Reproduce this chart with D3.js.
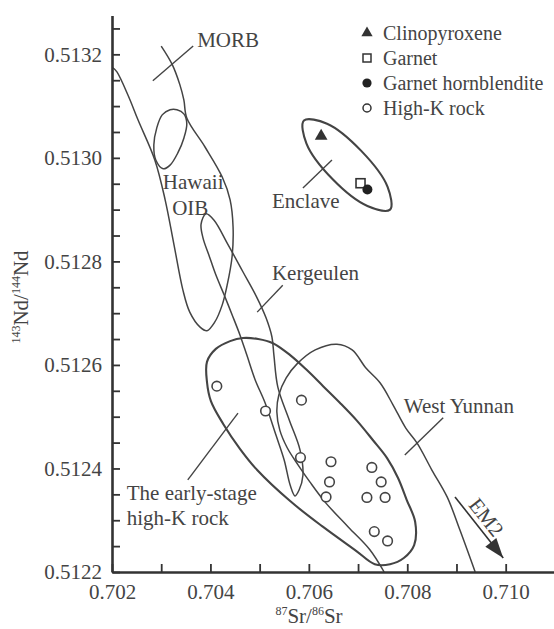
<!DOCTYPE html>
<html>
<head>
<meta charset="utf-8">
<script src="https://cdn.jsdelivr.net/npm/d3@7"></script>
<style>
  body { margin: 0; background: #fff; }
  svg text { font-family: "Liberation Serif", "Times New Roman", serif; fill: #444; }
</style>
</head>
<body>
<svg id="chart" width="554" height="629"></svg>
<script>
// legend categories
const categories = ["Clinopyroxene", "Garnet", "Garnet hornblendite", "High-K rock"];

// enclave minerals  [87Sr/86Sr, 143Nd/144Nd]
const clinopyroxene = [[0.70625, 0.513042]];
const garnet = [[0.70705, 0.512951]];
const garnetHornblendite = [[0.70719, 0.512939]];

// high-K rocks
const highK = [
  [0.70413, 0.512559], [0.70512, 0.512511], [0.70585, 0.512532], [0.70583, 0.512421],
  [0.70645, 0.512413], [0.70642, 0.512374], [0.70635, 0.512345], [0.70728, 0.512402],
  [0.70747, 0.512374], [0.70718, 0.512344], [0.70755, 0.512344], [0.70733, 0.512278],
  [0.70760, 0.512260]
];

// field outlines
const morbOib = [
  [0.70202, 0.513174], [0.70210, 0.513166], [0.70233, 0.513120], [0.70253, 0.513073],
  [0.70287, 0.512996], [0.70308, 0.512919], [0.70326, 0.512832], [0.70344, 0.512745],
  [0.70358, 0.512702], [0.70379, 0.512673], [0.70393, 0.512666], [0.70409, 0.512683],
  [0.70424, 0.512716], [0.70434, 0.512754], [0.70444, 0.512809], [0.70446, 0.512867],
  [0.70440, 0.512919], [0.70424, 0.512963], [0.70389, 0.513021], [0.70352, 0.513077],
  [0.70346, 0.513112], [0.70338, 0.513141], [0.70322, 0.513181], [0.70300, 0.513216]
];
const hawaii = [
  [0.70318, 0.513093], [0.70302, 0.513083], [0.70291, 0.513058], [0.70285, 0.513025],
  [0.70289, 0.512996], [0.70304, 0.512979], [0.70318, 0.512986], [0.70334, 0.513010],
  [0.70346, 0.513038], [0.70352, 0.513066], [0.70346, 0.513085], [0.70332, 0.513093]
];
const kergeulen = [
  [0.70391, 0.512892], [0.70407, 0.512880], [0.70436, 0.512832], [0.70466, 0.512780],
  [0.70493, 0.512733], [0.70513, 0.512691], [0.70525, 0.512654], [0.70529, 0.512619],
  [0.70537, 0.512557], [0.70560, 0.512494], [0.70582, 0.512436], [0.70588, 0.512387],
  [0.70580, 0.512358], [0.70572, 0.512347], [0.70562, 0.512368], [0.70550, 0.512416],
  [0.70533, 0.512465], [0.70511, 0.512527], [0.70491, 0.512571], [0.70474, 0.512619],
  [0.70460, 0.512658], [0.70444, 0.512697], [0.70428, 0.512735], [0.70411, 0.512774],
  [0.70397, 0.512812], [0.70385, 0.512845], [0.70381, 0.512872]
];
const earlyStage = [
  [0.70393, 0.512606], [0.70411, 0.512631], [0.70440, 0.512646], [0.70466, 0.512652],
  [0.70497, 0.512650], [0.70527, 0.512642], [0.70562, 0.512619], [0.70596, 0.512590],
  [0.70629, 0.512559], [0.70663, 0.512527], [0.70698, 0.512492], [0.70730, 0.512455],
  [0.70759, 0.512420], [0.70781, 0.512382], [0.70799, 0.512339], [0.70816, 0.512297],
  [0.70814, 0.512252], [0.70793, 0.512227], [0.70765, 0.512215], [0.70734, 0.512215],
  [0.70696, 0.512241], [0.70629, 0.512287], [0.70562, 0.512337], [0.70495, 0.512397],
  [0.70460, 0.512438], [0.70426, 0.512486], [0.70401, 0.512530], [0.70393, 0.512567]
];
const westYunnan = [
  [0.70753, 0.512200], [0.70724, 0.512243], [0.70680, 0.512287], [0.70633, 0.512335],
  [0.70602, 0.512374], [0.70578, 0.512407], [0.70556, 0.512440], [0.70541, 0.512474],
  [0.70535, 0.512509], [0.70539, 0.512542], [0.70554, 0.512575], [0.70576, 0.512602],
  [0.70613, 0.512629], [0.70657, 0.512640], [0.70688, 0.512629], [0.70716, 0.512594],
  [0.70745, 0.512565], [0.70771, 0.512523], [0.70797, 0.512478], [0.70820, 0.512449],
  [0.70850, 0.512397], [0.70881, 0.512345], [0.70907, 0.512281], [0.70938, 0.512200]
];
const enclave = [
  [0.70765, 0.512900], [0.70719, 0.512907], [0.70648, 0.512959], [0.70595, 0.513028],
  [0.70590, 0.513072], [0.70637, 0.513066], [0.70707, 0.513013], [0.70760, 0.512944]
];
const em2 = [[0.70897, 0.512345], [0.70995, 0.512227]];

// labels with leader lines: [text, x, y, anchor, leader]
const annotations = [
  ["MORB", 0.70373, 0.513214, "start", [[0.70283, 0.513149], [0.70365, 0.513216]]],
  ["Hawaii", 0.70365, 0.512940, "middle", null],
  ["OIB", 0.70359, 0.512890, "middle", null],
  ["Enclave", 0.70525, 0.512903, "start", [[0.70588, 0.512942], [0.70647, 0.512996]]],
  ["Kergeulen", 0.70525, 0.512764, "start", [[0.70547, 0.512754], [0.70495, 0.512702]]],
  ["West Yunnan", 0.70793, 0.512507, "start", [[0.70873, 0.512498], [0.70795, 0.512426]]],
  ["The early-stage", 0.70230, 0.512339, "start", [[0.70354, 0.512378], [0.70456, 0.512507]]],
  ["high-K rock", 0.70230, 0.512291, "start", null]
];

// axes
const xMajor = [0.702, 0.704, 0.706, 0.708, 0.710];
const xLabels = ["0.702", "0.704", "0.706", "0.708", "0.710"];
const xMinor = [0.703, 0.705, 0.707, 0.709];
const yMajor = [0.5122, 0.5124, 0.5126, 0.5128, 0.5130, 0.5132];
const yLabels = ["0.5122", "0.5124", "0.5126", "0.5128", "0.5130", "0.5132"];
const yMinor = [0.51225, 0.51235, 0.51245, 0.51255, 0.51265, 0.51275,
  0.51285, 0.51295, 0.51305, 0.51315, 0.51325,
  0.5123, 0.5125, 0.5127, 0.5129, 0.5131];

const svg = d3.select("#chart");

const x = d3.scaleLinear().domain([0.702, 0.711]).range([112, 554.9]);
const y = d3.scaleLinear().domain([0.5122, 0.513275]).range([572, 15.5]);

const line = d3.line().x(d => x(d[0])).y(d => y(d[1]));

// fields
function field(pts, closed, width) {
  svg.append("path")
    .attr("d", line.curve(closed ? d3.curveCatmullRomClosed : d3.curveCatmullRom)(pts))
    .attr("fill", "none")
    .attr("stroke", "#444")
    .attr("stroke-width", width);
}
field(morbOib, false, 1.5);
field(hawaii, true, 1.5);
field(kergeulen, true, 1.5);
field(westYunnan, false, 1.5);
field(earlyStage, true, 2.1);
field(enclave, true, 2.1);

// labels
annotations.forEach(a => {
  svg.append("text")
    .attr("x", x(a[1]))
    .attr("y", y(a[2]))
    .attr("text-anchor", a[3])
    .attr("font-size", 21)
    .text(a[0]);
  if (a[4]) {
    svg.append("path")
      .attr("d", line.curve(d3.curveLinear)(a[4]))
      .attr("stroke", "#444")
      .attr("stroke-width", 1.4)
      .attr("fill", "none");
  }
});

// EM2 arrow
{
  const [x0, y0] = [x(em2[0][0]), y(em2[0][1])];
  const [x1, y1] = [x(em2[1][0]), y(em2[1][1])];
  const ang = Math.atan2(y1 - y0, x1 - x0) * 180 / Math.PI;
  svg.append("path")
    .attr("d", line.curve(d3.curveLinear)(em2))
    .attr("stroke", "#333")
    .attr("stroke-width", 1.6);
  svg.append("path")
    .attr("d", "M0,0L-20,-7L-20,7Z")
    .attr("fill", "#333")
    .attr("transform", `translate(${x1},${y1}) rotate(${ang})`);
  const mx = (x0 + x1) / 2, my = (y0 + y1) / 2;
  svg.append("text")
    .attr("transform", `translate(${mx - 3},${my - 2}) rotate(${ang})`)
    .attr("dy", -6)
    .attr("text-anchor", "middle")
    .attr("font-size", 21)
    .text("EM2");
}

// points
const sym = d3.symbol();
svg.selectAll(".hk").data(highK).join("circle")
  .attr("cx", d => x(d[0])).attr("cy", d => y(d[1])).attr("r", 4.8)
  .attr("fill", "#fff").attr("stroke", "#444").attr("stroke-width", 1.6);
svg.selectAll(".cpx").data(clinopyroxene).join("path")
  .attr("d", sym.type(d3.symbolTriangle).size(70)())
  .attr("transform", d => `translate(${x(d[0])},${y(d[1])})`)
  .attr("fill", "#333");
svg.selectAll(".grt").data(garnet).join("rect")
  .attr("x", d => x(d[0]) - 4.5).attr("y", d => y(d[1]) - 4.5)
  .attr("width", 9).attr("height", 9)
  .attr("fill", "#fff").attr("stroke", "#333").attr("stroke-width", 1.6);
svg.selectAll(".gh").data(garnetHornblendite).join("circle")
  .attr("cx", d => x(d[0])).attr("cy", d => y(d[1])).attr("r", 5)
  .attr("fill", "#222");

// axes
const fmtY = d => yLabels[yMajor.indexOf(d)];
const fmtX = d => xLabels[xMajor.indexOf(d)];

svg.append("g").attr("transform", "translate(112,0)")
  .call(d3.axisLeft(y).tickValues(yMajor).tickFormat(fmtY).tickSizeInner(-8).tickSizeOuter(0).tickPadding(10));
svg.append("g").attr("transform", "translate(112,0)")
  .call(d3.axisLeft(y).tickValues(yMinor).tickFormat("").tickSizeInner(-8).tickSizeOuter(0))
  .select(".domain").remove();
svg.append("g").attr("transform", "translate(0,572)")
  .call(d3.axisBottom(x).tickValues(xMajor).tickFormat(fmtX).tickSizeInner(-8).tickSizeOuter(0).tickPadding(12));
svg.append("g").attr("transform", "translate(0,572)")
  .call(d3.axisBottom(x).tickValues(xMinor).tickFormat("").tickSizeInner(-8).tickSizeOuter(0))
  .select(".domain").remove();

svg.selectAll(".domain").attr("stroke", "#333").attr("stroke-width", 2.6);
svg.selectAll(".tick line").attr("stroke", "#333").attr("stroke-width", 1.8);
svg.selectAll(".tick text").attr("font-size", 21).attr("fill", "#444");

// axis titles
const xt = svg.append("text").attr("x", 309).attr("y", 623).attr("text-anchor", "middle").attr("font-size", 21);
xt.append("tspan").attr("font-size", 12).attr("dy", -8).text("87");
xt.append("tspan").attr("dy", 8).text("Sr/");
xt.append("tspan").attr("font-size", 12).attr("dy", -8).text("86");
xt.append("tspan").attr("dy", 8).text("Sr");

const yt = svg.append("text").attr("transform", "translate(28,297) rotate(-90)")
  .attr("text-anchor", "middle").attr("font-size", 21);
yt.append("tspan").attr("font-size", 12).attr("dy", -8).text("143");
yt.append("tspan").attr("dy", 8).text("Nd/");
yt.append("tspan").attr("font-size", 12).attr("dy", -8).text("144");
yt.append("tspan").attr("dy", 8).text("Nd");

// legend
const legend = svg.append("g");
const legendY = d3.scalePoint().domain(categories).range([33, 108]);
categories.forEach((c, i) => {
  const g = legend.append("g").attr("transform", `translate(367,${legendY(c)})`);
  if (i === 0) g.append("path").attr("d", d3.symbol(d3.symbolTriangle, 55)()).attr("fill", "#333");
  if (i === 1) g.append("rect").attr("x", -4).attr("y", -4).attr("width", 8).attr("height", 8)
    .attr("fill", "#fff").attr("stroke", "#333").attr("stroke-width", 1.5);
  if (i === 2) g.append("circle").attr("r", 4.6).attr("fill", "#222");
  if (i === 3) g.append("circle").attr("r", 4).attr("fill", "#fff").attr("stroke", "#333").attr("stroke-width", 1.5);
  g.append("text").attr("x", 16).attr("dy", "0.35em").attr("font-size", 20).text(c);
});
</script>
</body>
</html>
